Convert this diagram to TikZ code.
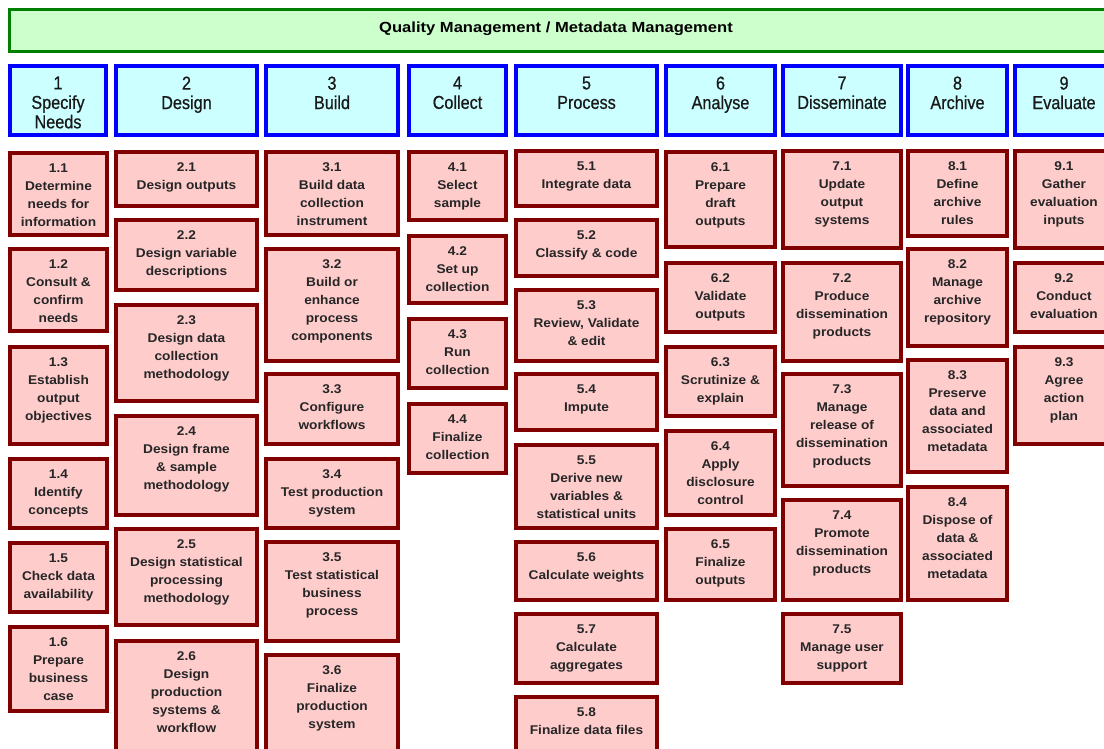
\documentclass[tikz,border=0pt]{standalone}
\usepackage{fontspec}
\setmainfont{Liberation Sans}
\newfontfamily\subf{Liberation Sans}[FakeStretch=1.08]
\newfontfamily\headf{Liberation Sans}[FakeStretch=0.87,FakeBold=0.6]
\newfontfamily\topf{Liberation Sans}[FakeStretch=1.13]
\definecolor{subfill}{HTML}{FFCCCC}
\definecolor{subdraw}{HTML}{800000}
\definecolor{hdfill}{HTML}{CCFFFF}
\definecolor{hddraw}{HTML}{0000FF}
\definecolor{topfill}{HTML}{CCFFCC}
\definecolor{topdraw}{HTML}{008000}
\tikzset{
  x=0.75pt, y=-0.75pt,
  subbox/.style={draw=subdraw, fill=subfill, line width=3pt, inner sep=0pt, outer sep=0pt, rectangle},
  subtext/.style={anchor=north, align=center, inner sep=0pt, text=black!85,
    font=\subf\bfseries\fontsize{9.5}{13.5}\selectfont},
  hdbox/.style={draw=hddraw, fill=hdfill, line width=3.2pt, inner sep=0pt, outer sep=0pt, rectangle},
  hdtext/.style={anchor=north, align=center, inner sep=0pt, text=black!90,
    font=\headf\fontsize{14}{14.6}\selectfont},
  topbox/.style={draw=topdraw, fill=topfill, line width=2.4pt, inner sep=0pt, outer sep=0pt, rectangle},
  toptext/.style={inner sep=0pt, font=\topf\bfseries\fontsize{11}{13}\selectfont}
}
% name, x1, y1, x2, y2, text
\newcommand{\gsb}[6]{%
  \pgfmathsetmacro{\bw}{(#4-#2-4)*0.75}%
  \pgfmathsetmacro{\bh}{(#5-#3-4)*0.75}%
  \node[subbox, minimum width=\bw pt, minimum height=\bh pt, anchor=north west] (#1) at (#2+2,#3+2) {};
  \node[subtext] (#1t) at ([yshift=-7.9pt]#1.north) {#6};
}
% name, x1, x2, text
\newcommand{\ghd}[4]{%
  \pgfmathsetmacro{\bw}{(#3-#2-4.3)*0.75}%
  \pgfmathsetmacro{\bh}{(137-64-4.3)*0.75}%
  \node[hdbox, minimum width=\bw pt, minimum height=\bh pt, anchor=north west] (#1) at (#2+2.15,66.15) {};
  \node[hdtext] (#1t) at ([yshift=-7.6pt]#1.north) {#4};
}
\begin{document}
\begin{tikzpicture}
\path[use as bounding box, clip] (0,0) rectangle (1104,749);
\fill[white] (0,0) rectangle (1104,749);
% top bar
\node[topbox, minimum width={(1115-8-3.2)*0.75pt}, minimum height={(53-8-3.2)*0.75pt}, anchor=north west] (qm) at (9.6,9.6) {};
\node[toptext] (qmt) at (556,29) {Quality Management / Metadata Management};
% headers
\ghd{h1}{8}{108}{1\\Specify\\Needs}
\ghd{h2}{114}{259}{2\\Design}
\ghd{h3}{264}{400}{3\\Build}
\ghd{h4}{407}{508}{4\\Collect}
\ghd{h5}{514}{659}{5\\Process}
\ghd{h6}{664}{777}{6\\Analyse}
\ghd{h7}{781}{903}{7\\Disseminate}
\ghd{h8}{906}{1009}{8\\Archive}
\ghd{h9}{1013}{1115}{9\\Evaluate}
% column 1
\gsb{s11}{8}{151}{109}{237}{1.1\\Determine\\needs for\\information}
\gsb{s12}{8}{247}{109}{333}{1.2\\Consult \&\\confirm\\needs}
\gsb{s13}{8}{345}{109}{446}{1.3\\Establish\\output\\objectives}
\gsb{s14}{8}{457}{109}{530}{1.4\\Identify\\concepts}
\gsb{s15}{8}{541}{109}{614}{1.5\\Check data\\availability}
\gsb{s16}{8}{625}{109}{713}{1.6\\Prepare\\business\\case}
% column 2
\gsb{s21}{114}{150}{259}{208}{2.1\\Design outputs}
\gsb{s22}{114}{218}{259}{292}{2.2\\Design variable\\descriptions}
\gsb{s23}{114}{303}{259}{403}{2.3\\Design data\\collection\\methodology}
\gsb{s24}{114}{414}{259}{517}{2.4\\Design frame\\\& sample\\methodology}
\gsb{s25}{114}{527}{259}{627}{2.5\\Design statistical\\processing\\methodology}
\gsb{s26}{114}{639}{259}{762}{2.6\\Design\\production\\systems \&\\workflow}
% column 3
\gsb{s31}{264}{150}{400}{237}{3.1\\Build data\\collection\\instrument}
\gsb{s32}{264}{247}{400}{363}{3.2\\Build or\\enhance\\process\\components}
\gsb{s33}{264}{372}{400}{446}{3.3\\Configure\\workflows}
\gsb{s34}{264}{457}{400}{530}{3.4\\Test production\\system}
\gsb{s35}{264}{540}{400}{643}{3.5\\Test statistical\\business\\process}
\gsb{s36}{264}{653}{400}{762}{3.6\\Finalize\\production\\system}
% column 4
\gsb{s41}{407}{150}{508}{222}{4.1\\Select\\sample}
\gsb{s42}{407}{234}{508}{305}{4.2\\Set up\\collection}
\gsb{s43}{407}{317}{508}{390}{4.3\\Run\\collection}
\gsb{s44}{407}{402}{508}{475}{4.4\\Finalize\\collection}
% column 5
\gsb{s51}{514}{149}{659}{208}{5.1\\Integrate data}
\gsb{s52}{514}{218}{659}{278}{5.2\\Classify \& code}
\gsb{s53}{514}{288}{659}{363}{5.3\\Review, Validate\\\& edit}
\gsb{s54}{514}{372}{659}{432}{5.4\\Impute}
\gsb{s55}{514}{443}{659}{530}{5.5\\Derive new\\variables \&\\statistical units}
\gsb{s56}{514}{540}{659}{602}{5.6\\Calculate weights}
\gsb{s57}{514}{612}{659}{685}{5.7\\Calculate\\aggregates}
\gsb{s58}{514}{695}{659}{762}{5.8\\Finalize data files}
% column 6
\gsb{s61}{664}{150}{777}{249}{6.1\\Prepare\\draft\\outputs}
\gsb{s62}{664}{261}{777}{334}{6.2\\Validate\\outputs}
\gsb{s63}{664}{345}{777}{418}{6.3\\Scrutinize \&\\explain}
\gsb{s64}{664}{429}{777}{517}{6.4\\Apply\\disclosure\\control}
\gsb{s65}{664}{527}{777}{602}{6.5\\Finalize\\outputs}
% column 7
\gsb{s71}{781}{149}{903}{250}{7.1\\Update\\output\\systems}
\gsb{s72}{781}{261}{903}{363}{7.2\\Produce\\dissemination\\products}
\gsb{s73}{781}{372}{903}{488}{7.3\\Manage\\release of\\dissemination\\products}
\gsb{s74}{781}{498}{903}{602}{7.4\\Promote\\dissemination\\products}
\gsb{s75}{781}{612}{903}{685}{7.5\\Manage user\\support}
% column 8
\gsb{s81}{906}{149}{1009}{238}{8.1\\Define\\archive\\rules}
\gsb{s82}{906}{247}{1009}{348}{8.2\\Manage\\archive\\repository}
\gsb{s83}{906}{358}{1009}{474}{8.3\\Preserve\\data and\\associated\\metadata}
\gsb{s84}{906}{485}{1009}{602}{8.4\\Dispose of\\data \&\\associated\\metadata}
% column 9
\gsb{s91}{1013}{149}{1115}{250}{9.1\\Gather\\evaluation\\inputs}
\gsb{s92}{1013}{261}{1115}{334}{9.2\\Conduct\\evaluation}
\gsb{s93}{1013}{345}{1115}{446}{9.3\\Agree\\action\\plan}
\end{tikzpicture}
\end{document}
